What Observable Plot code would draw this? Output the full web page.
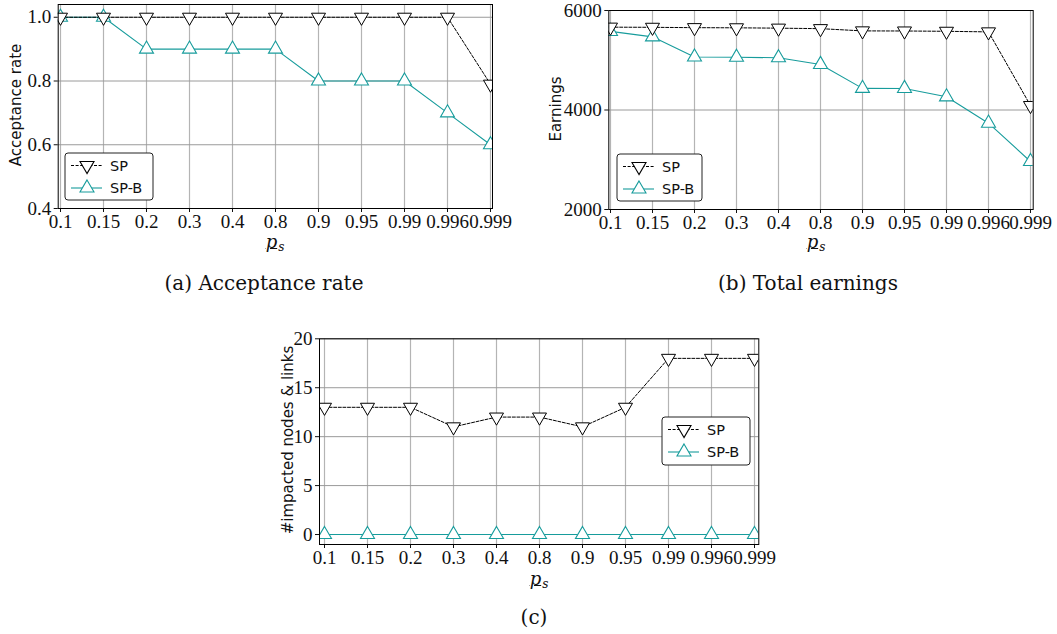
<!DOCTYPE html>
<html>
<head>
<meta charset="utf-8">
<script src="https://cdn.jsdelivr.net/npm/d3@7"></script>
<script src="https://cdn.jsdelivr.net/npm/@observablehq/plot@0.6"></script>
<style>
  html, body { margin: 0; padding: 0; background: #fff; }
  #wrap { position: relative; width: 1057px; height: 634px; overflow: hidden; background: #fff; }
  #wrap > * { position: absolute; }
  .cap { font-family: "DejaVu Serif", serif; font-size: 20px; color: #111; white-space: nowrap; transform: translate(-50%, -50%); }
  .ylab { font-family: "DejaVu Sans", sans-serif; font-size: 15px; color: #111; white-space: nowrap; transform: translate(-50%, -50%) rotate(-90deg); }
  .xlab { font-family: "DejaVu Serif", serif; font-style: italic; font-size: 18px; line-height: 1; color: #111; white-space: nowrap; transform: translate(-50%, -50%); }
  .xlab .p { text-decoration: underline; text-decoration-thickness: 1px; text-underline-offset: 0px; }
  .xlab sub { font-size: 12px; line-height: 0; vertical-align: -3px; margin-left: 1px; }
</style>
</head>
<body>
<div id="wrap"></div>
<script>
// ---- data ----
const categories = ["0.1", "0.15", "0.2", "0.3", "0.4", "0.8", "0.9", "0.95", "0.99", "0.996", "0.999"];
const seriesNames = ["SP", "SP-B"];

const acceptSP  = [1.0, 1.0, 1.0, 1.0, 1.0, 1.0, 1.0, 1.0, 1.0, 1.0, 0.79];
const acceptSPB = [1.0, 1.0, 0.9, 0.9, 0.9, 0.9, 0.8, 0.8, 0.8, 0.7, 0.6];

const earnSP  = [5665, 5662, 5655, 5652, 5645, 5635, 5590, 5588, 5582, 5570, 4090];
const earnSPB = [5580, 5470, 5065, 5060, 5050, 4915, 4435, 4433, 4265, 3735, 2965];

const impactSP  = [13, 13, 13, 11, 12, 12, 11, 13, 18, 18, 18];
const impactSPB = [0, 0, 0, 0, 0, 0, 0, 0, 0, 0, 0];

const ticksA = [0.4, 0.6, 0.8, 1.0];
const ticksB = [2000, 4000, 6000];
const ticksC = [0, 5, 10, 15, 20];

const TEAL = "#179c9c";
const wrap = document.getElementById("wrap");

function rows(sp, spb) {
  const out = [];
  categories.forEach((c, i) => {
    out.push({x: c, y: sp[i], s: "SP"});
    out.push({x: c, y: spb[i], s: "SP-B"});
  });
  return out;
}

function makeChart(opts) {
  const data = rows(opts.sp, opts.spb);
  const sp = data.filter(d => d.s === "SP");
  const spb = data.filter(d => d.s === "SP-B");
  const chart = Plot.plot({
    width: opts.width,
    height: opts.height,
    marginLeft: opts.ml, marginRight: opts.mr, marginTop: opts.mt, marginBottom: opts.mb,
    style: {fontFamily: "'Liberation Serif', serif", fontSize: "19px", color: "#111", background: "transparent", overflow: "visible"},
    x: {type: "point", domain: categories, padding: 0},
    y: {domain: opts.ydomain},
    marks: [
      Plot.gridX(categories, {stroke: "#b4b4b4", strokeOpacity: 1, strokeWidth: 1.2}),
      Plot.gridY(opts.ticks, {stroke: "#9a9a9a", strokeOpacity: 1, strokeWidth: 1}),
      Plot.line(spb, {x: "x", y: "y", stroke: TEAL, strokeWidth: 1.1, clip: "frame"}),
      Plot.line(sp, {x: "x", y: "y", stroke: "#000", strokeWidth: 1, strokeDasharray: "3,1.6", clip: "frame"}),
      Plot.dot(spb, {x: "x", y: "y", symbol: "triangle", r: 5.2, stroke: TEAL, strokeWidth: 1.1, fill: "white", clip: "frame"}),
      Plot.dot(sp, {x: "x", y: "y", symbol: "triangle", rotate: 180, r: 5.2, stroke: "#000", strokeWidth: 1, fill: "white", clip: "frame"}),
      Plot.axisX({tickSize: 4, tickPadding: 2, label: null, fontSize: 19}),
      Plot.axisY({ticks: opts.ticks, tickSize: 4, tickPadding: 3, tickFormat: opts.fmt, label: null, fontSize: 19}),
      Plot.frame({stroke: "#000", strokeWidth: 1})
    ]
  });
  chart.style.left = opts.left + "px";
  chart.style.top = opts.top + "px";
  wrap.appendChild(chart);
}

function addDiv(cls, x, y, html) {
  const d = document.createElement("div");
  d.className = cls;
  d.style.left = x + "px";
  d.style.top = y + "px";
  d.innerHTML = html;
  wrap.appendChild(d);
}

function addLegend(x, y, w, h) {
  const svg = d3.create("svg").attr("width", w + 2).attr("height", h + 2)
    .style("left", (x - 1) + "px").style("top", (y - 1) + "px").style("position", "absolute");
  svg.append("rect").attr("x", 1).attr("y", 1).attr("width", w).attr("height", h)
    .attr("rx", 3).attr("fill", "white").attr("stroke", "#222").attr("stroke-width", 1);
  const sym = d3.symbol(d3.symbolTriangle, Math.PI * 5.2 * 5.2)();
  const rowsY = [12.5, 35];
  seriesNames.forEach((name, i) => {
    const yy = rowsY[i] + 1;
    const col = i === 0 ? "#000" : TEAL;
    svg.append("line").attr("x1", 7).attr("x2", 38).attr("y1", yy).attr("y2", yy)
      .attr("stroke", col).attr("stroke-width", i === 0 ? 1 : 1.1)
      .attr("stroke-dasharray", i === 0 ? "3,1.6" : null);
    svg.append("path").attr("d", sym)
      .attr("transform", `translate(23,${yy}) rotate(${i === 0 ? 180 : 0})`)
      .attr("fill", "white").attr("stroke", col).attr("stroke-width", 1.1);
    svg.append("text").attr("x", 46).attr("y", yy).attr("dy", "0.36em")
      .attr("font-family", "'DejaVu Sans', sans-serif").attr("font-size", 14.5).attr("fill", "#111")
      .text(name);
  });
  wrap.appendChild(svg.node());
}

// (a)
makeChart({left: 0, top: 0, width: 520, height: 250, ml: 57.7, mr: 28, mt: 4, mb: 42,
  sp: acceptSP, spb: acceptSPB, ydomain: [0.4, 1.04], ticks: ticksA, fmt: d3.format(".1f")});
// (b)
makeChart({left: 540, top: 0, width: 517, height: 250, ml: 68.3, mr: 24.3, mt: 10, mb: 41,
  sp: earnSP, spb: earnSPB, ydomain: [2000, 6000], ticks: ticksB, fmt: d3.format("d")});
// (c)
makeChart({left: 260, top: 320, width: 520, height: 260, ml: 59, mr: 21.7, mt: 18.3, mb: 36,
  sp: impactSP, spb: impactSPB, ydomain: [-1.02, 20], ticks: ticksC, fmt: d3.format("d")});

// axis labels
addDiv("ylab", 16, 105, "Acceptance rate");
addDiv("ylab", 556, 109, "Earnings");
addDiv("ylab", 288, 440, "#impacted nodes &amp; links");
const ps = '<span class="p">p</span><sub>s</sub>';
addDiv("xlab", 275, 242, ps);
addDiv("xlab", 816, 242, ps);
addDiv("xlab", 539, 579, ps);

// legends
addLegend(65, 153, 88, 47);
addLegend(617, 154, 85, 47);
addLegend(662, 417, 88, 48);

// captions
addDiv("cap", 264, 283, "(a) Acceptance rate");
addDiv("cap", 808, 283, "(b) Total earnings");
addDiv("cap", 534, 617, "(c)");
</script>
</body>
</html>
